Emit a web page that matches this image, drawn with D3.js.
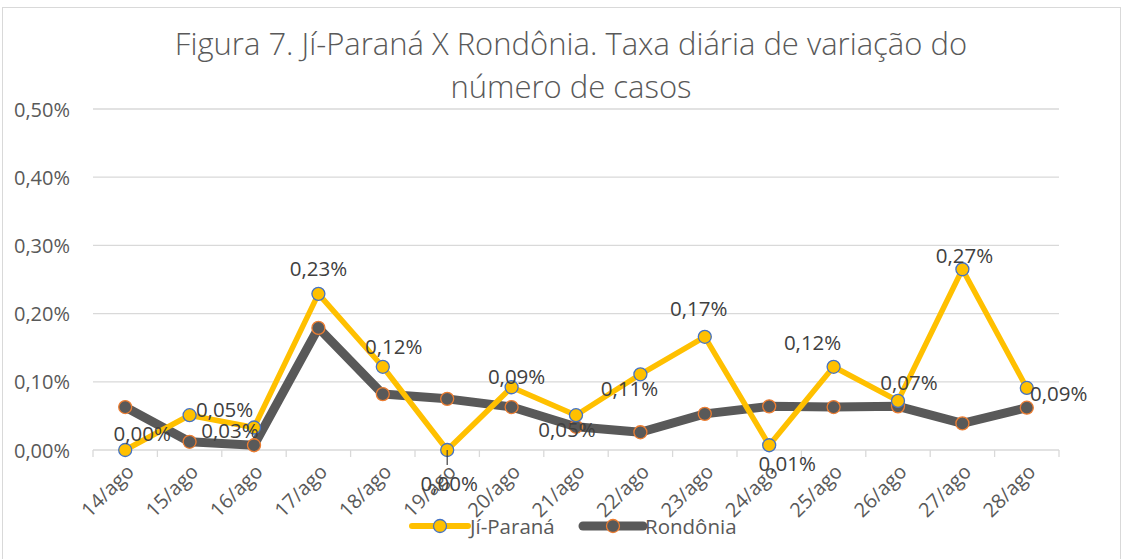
<!DOCTYPE html>
<meta charset="utf-8">
<script src="https://cdn.jsdelivr.net/npm/d3@7"></script>
<style>
body {margin: 0; background: #fff;}
text {font-family: "Open Sans", "Liberation Sans", sans-serif;}
.title {font-size: 31px; font-weight: 300; fill: #595959; text-anchor: middle;}
.tick-label {font-size: 20px; fill: #595959;}
.data-label {font-size: 20.5px; fill: #404040; text-anchor: middle; dominant-baseline: central;}
.legend-text {font-size: 20.5px; fill: #595959; dominant-baseline: central;}
</style>
<div id="vis"></div>
<script>

// Data
const days = ["14/ago", "15/ago", "16/ago", "17/ago", "18/ago", "19/ago", "20/ago", "21/ago",
              "22/ago", "23/ago", "24/ago", "25/ago", "26/ago", "27/ago", "28/ago"];
const jiParana = [0.000, 0.051, 0.033, 0.229, 0.122, 0.000, 0.092, 0.051,
                  0.111, 0.166, 0.007, 0.122, 0.072, 0.265, 0.091];
const rondonia = [0.063, 0.012, 0.007, 0.179, 0.082, 0.075, 0.063, 0.034,
                  0.026, 0.053, 0.064, 0.063, 0.064, 0.039, 0.062];
const yTicks = [0, 0.1, 0.2, 0.3, 0.4, 0.5];
// label offsets (dx, dy) relative to each Jí-Paraná point
const labelOffsets = [[17, -17], [35, -6], [-24, 3], [0, -26], [11, -21], [2, 33], [5, -11], [-9, 14],
                      [-11, 14], [-6, -29], [18, 18], [-21, -25], [11, -19], [2, -14], [32, 5]];

const w = 1130, h = 559;
const margin = {top: 109, right: 71, bottom: 109, left: 93};
const width = w - margin.left - margin.right,
    height = h - margin.top - margin.bottom;

const svg = d3.select("#vis").append("svg")
    .attr("width", w)
    .attr("height", h);

// chart border
svg.append("rect")
    .attr("x", 2.5).attr("y", 7.5)
    .attr("width", 1118).attr("height", 560)
    .attr("fill", "none").attr("stroke", "#d9d9d9");

svg.append("text").attr("class", "title")
    .attr("x", 571).attr("y", 55)
    .text("Figura 7. Jí-Paraná X Rondônia. Taxa diária de variação do");
svg.append("text").attr("class", "title")
    .attr("x", 571).attr("y", 98)
    .text("número de casos");

const g = svg.append("g")
    .attr("transform", "translate(" + margin.left + "," + margin.top + ")");

const x = d3.scaleBand().domain(days).range([0, width]);
const y = d3.scaleLinear().domain([0, 0.5]).range([height, 0]);
const cx = d => x(d) + x.bandwidth() / 2;

// gridlines + y labels
g.selectAll(".grid").data(yTicks).enter().append("line")
    .attr("x1", 0).attr("x2", width)
    .attr("y1", d => y(d)).attr("y2", d => y(d))
    .attr("stroke", "#d9d9d9").attr("stroke-width", 1.3);

g.selectAll(".ylab").data(yTicks).enter().append("text")
    .attr("class", "tick-label")
    .attr("x", -23).attr("y", d => y(d))
    .attr("text-anchor", "end")
    .attr("dominant-baseline", "central")
    .text(d => d3.format(".2f")(d).replace(".", ",") + "%");

// x ticks at band boundaries
const bounds = days.map(d => x(d)).concat([width]);
g.selectAll(".xtick").data(bounds).enter().append("line")
    .attr("x1", d => d).attr("x2", d => d)
    .attr("y1", height).attr("y2", height + 7)
    .attr("stroke", "#d9d9d9").attr("stroke-width", 1.3);

g.selectAll(".xlab").data(days).enter().append("text")
    .attr("class", "tick-label")
    .attr("text-anchor", "end")
    .attr("transform", d => "translate(" + (cx(d) + 10) + "," + (height + 23) + ") rotate(-45)")
    .text(d => d);

// lines
const line = d3.line().x((d, i) => cx(days[i])).y(d => y(d));

g.append("path").datum(rondonia)
    .attr("d", line).attr("fill", "none")
    .attr("stroke", "#595959").attr("stroke-width", 9).attr("stroke-linejoin", "round");
g.append("path").datum(jiParana)
    .attr("d", line).attr("fill", "none")
    .attr("stroke", "#FFC000").attr("stroke-width", 5.5).attr("stroke-linejoin", "round");

g.selectAll(".mk-ro").data(rondonia).enter().append("circle")
    .attr("cx", (d, i) => cx(days[i])).attr("cy", d => y(d)).attr("r", 6.5)
    .attr("fill", "#595959").attr("stroke", "#ED7D31").attr("stroke-width", 1.3);
g.selectAll(".mk-ji").data(jiParana).enter().append("circle")
    .attr("cx", (d, i) => cx(days[i])).attr("cy", d => y(d)).attr("r", 6.5)
    .attr("fill", "#FFC000").attr("stroke", "#4472C4").attr("stroke-width", 1.3);

// leader line for 19/ago label
g.append("line")
    .attr("x1", cx(days[5])).attr("x2", cx(days[5]))
    .attr("y1", y(jiParana[5])).attr("y2", y(jiParana[5]) + 15)
    .attr("stroke", "#404040").attr("stroke-width", 1.2);

// data labels
g.selectAll(".data-label").data(jiParana).enter().append("text")
    .attr("class", "data-label")
    .attr("x", (d, i) => cx(days[i]) + labelOffsets[i][0])
    .attr("y", (d, i) => y(d) + labelOffsets[i][1])
    .text(d => d3.format(".2f")(d).replace(".", ",") + "%");

// legend
const legend = [
  {name: "Jí-Paraná", x: 412, len: 56, color: "#FFC000", sw: 6, edge: "#4472C4"},
  {name: "Rondônia", x: 583, len: 60, color: "#595959", sw: 9, edge: "#ED7D31"}
];
const lg = svg.selectAll(".legend").data(legend).enter().append("g")
    .attr("transform", d => "translate(" + d.x + ",526)");
lg.append("line").attr("x1", 0).attr("x2", d => d.len)
    .attr("stroke", d => d.color).attr("stroke-width", d => d.sw).attr("stroke-linecap", "round");
lg.append("circle").attr("cx", d => d.len / 2).attr("r", 6.5)
    .attr("fill", d => d.color).attr("stroke", d => d.edge).attr("stroke-width", 1.3);
lg.append("text").attr("class", "legend-text")
    .attr("x", d => d.len + 2).text(d => d.name);

</script>
